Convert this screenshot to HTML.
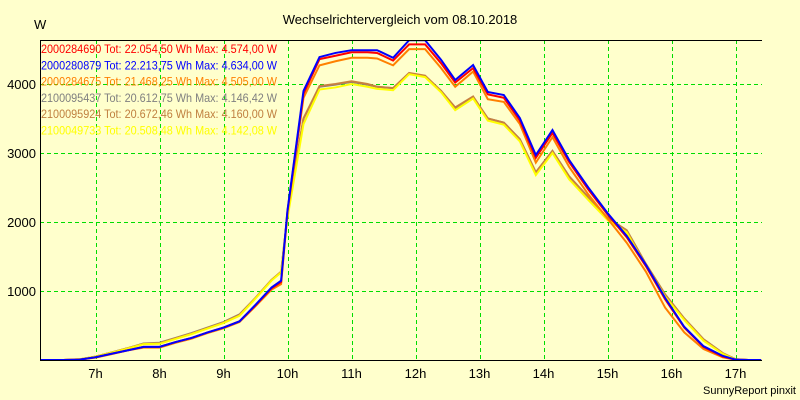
<!DOCTYPE html>
<html><head><meta charset="utf-8"><style>
body{margin:0;background:#ffffcc;}
svg{display:block;font-family:"Liberation Sans",sans-serif;}
</style></head><body>
<svg width="800" height="400">
<rect width="800" height="400" fill="#ffffcc"/>
<text x="400" y="24" text-anchor="middle" font-size="13">Wechselrichtervergleich vom 08.10.2018</text>
<text x="34" y="29" font-size="13">W</text>
<text x="796" y="394" text-anchor="end" font-size="11">SunnyReport pinxit</text>
<defs><clipPath id="pc"><rect x="40" y="40" width="730" height="321"/></clipPath></defs>
<g id="grid" shape-rendering="crispEdges"></g>
<g id="series" clip-path="url(#pc)"></g>
<g id="axes"></g>
<g id="legend"></g>
</svg>
<script>
const times=[6.13,6.25,6.5,6.75,7,7.25,7.5,7.75,8,8.25,8.5,8.75,9,9.25,9.5,9.75,9.9,10,10.25,10.5,10.75,11,11.25,11.4,11.65,11.9,12.15,12.4,12.62,12.9,13.13,13.38,13.63,13.88,14.14,14.4,14.7,15,15.3,15.6,15.9,16.2,16.5,16.8,17,17.2,17.4];
const blue=[0,0,0,5,40,90,140,190,190,260,320,400,470,560,800,1050,1150,2170,3900,4390,4450,4490,4490,4490,4380,4634,4634,4350,4058,4275,3884,3840,3507,2971,3333,2900,2500,2130,1800,1380,900,480,200,60,5,0,0];
const red=[0,0,0,5,40,90,140,190,190,260,320,400,470,560,790,1040,1130,2160,3860,4360,4410,4460,4460,4450,4340,4574,4574,4300,4020,4230,3850,3800,3470,2930,3290,2870,2470,2110,1780,1360,880,470,190,50,5,0,0];
const orange=[0,0,0,5,35,85,140,180,180,250,310,390,460,550,780,1020,1100,2140,3800,4270,4330,4380,4380,4370,4270,4505,4505,4230,3960,4180,3780,3740,3420,2860,3230,2800,2400,2050,1700,1280,760,400,160,40,3,0,0];
const gray=[0,0,0,10,50,110,170,240,250,320,390,470,550,660,900,1160,1270,2100,3500,3960,3990,4030,3990,3960,3940,4146,4110,3900,3650,3810,3500,3440,3200,2720,3030,2660,2360,2060,1880,1390,950,600,300,100,10,0,0];
const brown=[0,0,0,10,50,110,170,235,245,315,385,465,545,655,900,1160,1280,2100,3500,3970,4000,4040,4000,3960,3940,4160,4120,3900,3660,3820,3500,3440,3200,2720,3030,2660,2360,2060,1880,1390,950,600,300,100,10,0,0];
const yellow=[0,0,0,10,50,105,165,230,235,305,375,455,535,640,890,1150,1270,2060,3420,3920,3950,4000,3960,3930,3910,4142,4100,3880,3620,3790,3470,3410,3170,2680,3000,2620,2320,2030,1850,1360,920,580,280,90,5,0,0];
const yTicks=[1000,2000,3000,4000];
const xTicks=[7,8,9,10,11,12,13,14,15,16,17];
const legendLabels=["2000284690 Tot: 22.054,50 Wh Max: 4.574,00 W","2000280879 Tot: 22.213,75 Wh Max: 4.634,00 W","2000284675 Tot: 21.468,25 Wh Max: 4.505,00 W","2100095437 Tot: 20.612,75 Wh Max: 4.146,42 W","2100095924 Tot: 20.672,46 Wh Max: 4.160,00 W","2100049733 Tot: 20.508,48 Wh Max: 4.142,08 W"];
const NS="http://www.w3.org/2000/svg";
const X=h=>95.5+(h-7)*64;
const Y=v=>360-v*0.069;
function mk(tag,attrs,parent){const e=document.createElementNS(NS,tag);for(const k in attrs)e.setAttribute(k,attrs[k]);document.getElementById(parent).appendChild(e);return e;}
yTicks.forEach(v=>{
  const l=mk('line',{x1:40,x2:762,y1:Math.round(Y(v))+0.5,y2:Math.round(Y(v))+0.5,stroke:'#00dd00','stroke-dasharray':'4,3'},'grid');
  
  
  const t=mk('text',{x:36,y:Y(v)+5,'text-anchor':'end','font-size':13},'axes');
  t.textContent=v;
  
  
});
xTicks.forEach(h=>{
  const l=mk('line',{x1:Math.round(X(h))+0.5,x2:Math.round(X(h))+0.5,y1:40,y2:360,stroke:'#00dd00','stroke-dasharray':'4,3'},'grid');
  
  
  const t=mk('text',{x:X(h),y:378,'text-anchor':'middle','font-size':13},'axes');
  t.textContent=h+'h';
  
  
});
const ax=mk('path',{d:'M762,40.5H40.5V360.5H762',fill:'none',stroke:'#000','stroke-width':1},'axes');


const series=[[gray,'#808080'],[brown,'#c88040'],[yellow,'#ffff00'],[orange,'#ff8000'],[red,'#ff0000'],[blue,'#0000ff']];
series.forEach(([vals,c])=>{
  const p=mk('polyline',{points:vals.map((v,i)=>X(times[i])+','+Y(v)).join(' '),fill:'none',stroke:c,'stroke-width':2},'series');
  
  
});
const lc=['#ff0000','#0000ff','#ff8000','#808080','#c08040','#ffff00'];
legendLabels.forEach((s,i)=>{
  const t=mk('text',{x:41,y:53+i*16.3,'font-size':12,fill:lc[i],textLength:236,lengthAdjust:'spacingAndGlyphs'},'legend');
  t.textContent=s;
  
  
});
</script>
</body></html>
